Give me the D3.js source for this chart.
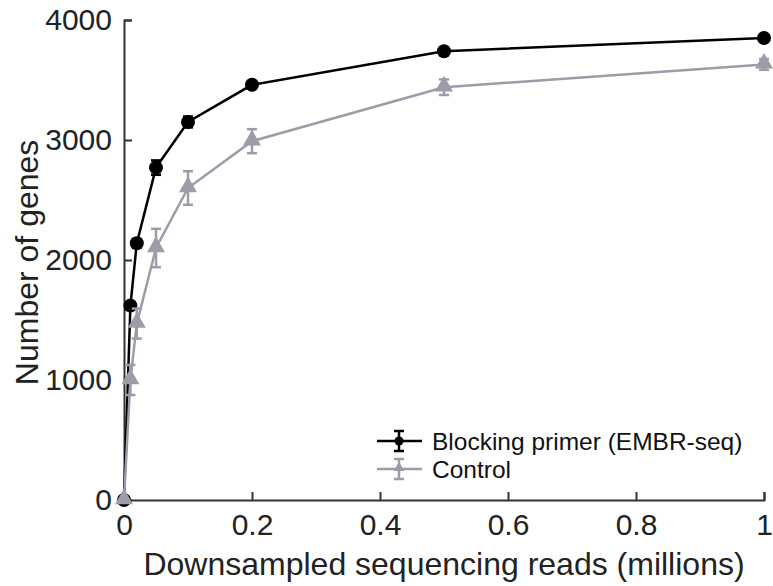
<!DOCTYPE html>
<html>
<head>
<meta charset="utf-8">
<script src="https://cdn.jsdelivr.net/npm/d3@7"></script>
<style>
  body { margin: 0; background: #fff; }
  text { font-family: "Liberation Sans", Arial, sans-serif; }
</style>
</head>
<body>
<div id="chart"></div>
<script>
const width = 773;
const height = 586;
const margin = {top: 20, right: 9, bottom: 86, left: 124};

// data
const reads = [0, 0.01, 0.02, 0.05, 0.1, 0.2, 0.5, 1];
const blockingGenes = [0, 1620, 2140, 2770, 3150, 3460, 3740, 3850];
const blockingErr = [0, 30, 35, 60, 45, 30, 30, 30];
const controlGenes = [0, 1000, 1470, 2100, 2600, 2990, 3440, 3630];
const controlErr = [0, 125, 125, 160, 140, 100, 65, 45];
const xTicks = [0, 0.2, 0.4, 0.6, 0.8, 1];
const yTicks = [0, 1000, 2000, 3000, 4000];
const seriesNames = ["Blocking primer (EMBR-seq)", "Control"];

const black = "#000000";
const grey = "#9d9ca8";
const axisColor = "#333333";

const svg = d3.select("#chart")
  .append("svg")
    .attr("width", width)
    .attr("height", height);

const x = d3.scaleLinear().domain([0, 1]).range([margin.left, width - margin.right]);
const y = d3.scaleLinear().domain([0, 4000]).range([height - margin.bottom, margin.top]);

// axes, ticks pointing inward
const xAxis = svg.append("g")
  .attr("transform", `translate(0, ${y(0)})`)
  .call(d3.axisBottom(x).tickValues(xTicks).tickSize(-8).tickPadding(14)
    .tickFormat(d => d === 0 || d === 1 ? d3.format("d")(d) : d3.format(".1f")(d)));

const yAxis = svg.append("g")
  .attr("transform", `translate(${x(0)}, 0)`)
  .call(d3.axisLeft(y).tickValues(yTicks).tickSize(-8).tickPadding(12).tickFormat(d3.format("d")));

[xAxis, yAxis].forEach(g => {
  g.select(".domain").attr("stroke", axisColor).attr("stroke-width", 2);
  g.selectAll(".tick line").attr("stroke", axisColor).attr("stroke-width", 2);
  g.selectAll(".tick text").attr("fill", "#222").style("font-size", "30px");
});

svg.append("text")
  .attr("x", (margin.left + width - margin.right) / 2)
  .attr("y", 575)
  .attr("text-anchor", "middle")
  .attr("fill", "#222")
  .style("font-size", "32px")
  .text("Downsampled sequencing reads (millions)");

svg.append("text")
  .attr("transform", `translate(38, ${y(1980)}) rotate(-90)`)
  .attr("text-anchor", "middle")
  .attr("fill", "#222")
  .style("font-size", "32px")
  .text("Number of genes");

const series = [
  {name: seriesNames[0], values: blockingGenes, err: blockingErr, color: black, shape: "circle"},
  {name: seriesNames[1], values: controlGenes, err: controlErr, color: grey, shape: "triangle"}
];

const line = d3.line()
  .x(d => x(d.x))
  .y(d => y(d.y));

const triangle = d3.symbol().type(d3.symbolTriangle).size(140);

series.forEach(s => {
  const pts = reads.map((r, i) => ({x: r, y: s.values[i], e: s.err[i]}));
  const g = svg.append("g");

  g.append("path")
    .datum(pts)
    .attr("fill", "none")
    .attr("stroke", s.color)
    .attr("stroke-width", 2.5)
    .attr("d", line);

  // error bars
  pts.filter(d => d.e > 0).forEach(d => {
    const cx = x(d.x);
    g.append("line")
      .attr("x1", cx).attr("x2", cx)
      .attr("y1", y(d.y - d.e)).attr("y2", y(d.y + d.e))
      .attr("stroke", s.color).attr("stroke-width", 2.5);
    [d.y - d.e, d.y + d.e].forEach(v => {
      g.append("line")
        .attr("x1", cx - 5).attr("x2", cx + 5)
        .attr("y1", y(v)).attr("y2", y(v))
        .attr("stroke", s.color).attr("stroke-width", 2.5);
    });
  });

  if (s.shape === "circle") {
    g.selectAll("circle")
      .data(pts)
      .enter()
      .append("circle")
      .attr("cx", d => x(d.x))
      .attr("cy", d => y(d.y))
      .attr("r", 7)
      .attr("fill", s.color);
  } else {
    g.selectAll(".tri")
      .data(pts)
      .enter()
      .append("path")
      .attr("class", "tri")
      .attr("transform", d => `translate(${x(d.x)}, ${y(d.y) - 1})`)
      .attr("d", triangle)
      .attr("fill", s.color);
  }
});

// legend
const legend = svg.append("g").attr("transform", "translate(377, 441)");
series.forEach((s, i) => {
  const g = legend.append("g").attr("transform", `translate(0, ${i * 28})`);
  g.append("line").attr("x1", 0).attr("x2", 45).attr("y1", 0).attr("y2", 0)
    .attr("stroke", s.color).attr("stroke-width", 2.5);
  g.append("line").attr("x1", 22).attr("x2", 22).attr("y1", -10).attr("y2", 10)
    .attr("stroke", s.color).attr("stroke-width", 2.5);
  [-10, 10].forEach(v => {
    g.append("line").attr("x1", 17).attr("x2", 27).attr("y1", v).attr("y2", v)
      .attr("stroke", s.color).attr("stroke-width", 2.5);
  });
  if (s.shape === "circle") {
    g.append("circle").attr("cx", 22).attr("cy", 0).attr("r", 4.5).attr("fill", s.color);
  } else {
    g.append("path").attr("transform", "translate(22, -1)")
      .attr("d", d3.symbol().type(d3.symbolTriangle).size(50)).attr("fill", s.color);
  }
  g.append("text")
    .attr("x", 55)
    .attr("y", 0)
    .attr("dy", "0.35em")
    .attr("fill", "#111")
    .style("font-size", "24.5px")
    .text(s.name);
});
</script>
</body>
</html>
